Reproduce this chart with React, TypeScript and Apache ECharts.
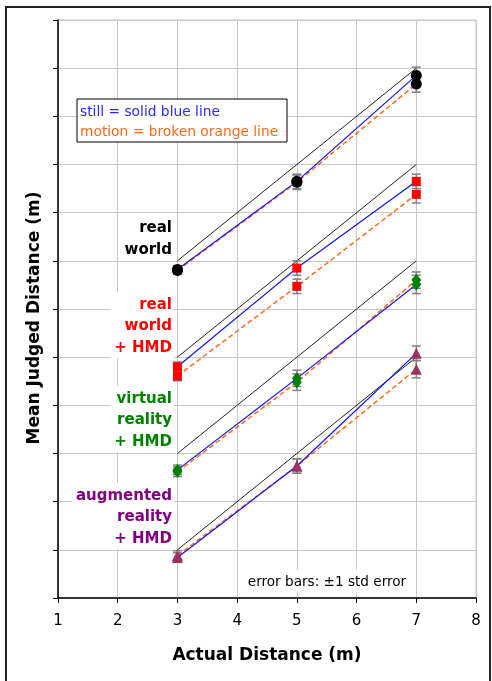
import React, { useEffect, useRef } from "react";
import * as echarts from "echarts";

const xTicks = [1, 2, 3, 4, 5, 6, 7, 8];
const xs = [3, 5, 7];

// reference lines (judged = actual), per condition: [value at x=3, value at x=7]
const refRW = [7, 11];
const refHMD = [5, 9];
const refVR = [3, 7];
const refAR = [1, 5];

const rwStill = [6.82, 8.65, 10.85];
const rwMotion = [6.8, 8.63, 10.67];
const hmdStill = [4.8, 6.85, 8.65];
const hmdMotion = [4.61, 6.47, 8.38];
const vrStill = [2.66, 4.56, 6.51];
const vrMotion = [2.62, 4.48, 6.6];
const arStill = [0.84, 2.74, 5.08];
const arMotion = [0.88, 2.74, 4.75];

const rwStillErr = [0.08, 0.15, 0.17];
const rwMotionErr = [0.08, 0.15, 0.17];
const hmdStillErr = [0.1, 0.15, 0.15];
const hmdMotionErr = [0.1, 0.15, 0.18];
const vrStillErr = [0.1, 0.17, 0.19];
const vrMotionErr = [0.1, 0.17, 0.17];
const arStillErr = [0.1, 0.15, 0.15];
const arMotionErr = [0.1, 0.15, 0.18];

const FONT = "DejaVu Sans";

export default function App() {
  const ref = useRef<HTMLDivElement>(null);
  useEffect(() => {
    if (!ref.current) return;
    const chart = echarts.init(ref.current, null, { renderer: "svg" });

    const conditions = [
      { name: "rw", refv: refRW, still: rwStill, motion: rwMotion, se: rwStillErr, me: rwMotionErr, color: "#000000", symbol: "circle", size: 11 },
      { name: "hmd", refv: refHMD, still: hmdStill, motion: hmdMotion, se: hmdStillErr, me: hmdMotionErr, color: "#ff0000", symbol: "rect", size: 9 },
      { name: "vr", refv: refVR, still: vrStill, motion: vrMotion, se: vrStillErr, me: vrMotionErr, color: "#008000", symbol: "diamond", size: [10, 12] },
      { name: "ar", refv: refAR, still: arStill, motion: arMotion, se: arStillErr, me: arMotionErr, color: "#993366", symbol: "triangle", size: 11 },
    ];

    const series: any[] = [];
    conditions.forEach((c) => {
      series.push({
        type: "line",
        data: [[xs[0], c.refv[0]], [xs[2], c.refv[1]]],
        symbol: "none",
        lineStyle: { color: "#222222", width: 1 },
        z: 2,
      });
      const errData: any[] = [];
      xs.forEach((x, i) => {
        errData.push([x, c.still[i], c.se[i]]);
        errData.push([x, c.motion[i], c.me[i]]);
      });
      series.push({
        type: "custom",
        data: errData,
        z: 3,
        renderItem: (params: any, api: any) => {
          const x = api.value(0);
          const y = api.value(1);
          const e = api.value(2);
          const lo = api.coord([x, y - e]);
          const hi = api.coord([x, y + e]);
          const st = { stroke: "#808080", lineWidth: 1.5 };
          return {
            type: "group",
            children: [
              { type: "line", shape: { x1: lo[0], y1: lo[1], x2: hi[0], y2: hi[1] }, style: st },
              { type: "line", shape: { x1: lo[0] - 4.5, y1: lo[1], x2: lo[0] + 4.5, y2: lo[1] }, style: st },
              { type: "line", shape: { x1: hi[0] - 4.5, y1: hi[1], x2: hi[0] + 4.5, y2: hi[1] }, style: st },
            ],
          };
        },
      });
      series.push({
        type: "line",
        data: xs.map((x, i) => [x, c.motion[i]]),
        symbol: c.symbol,
        symbolSize: c.size,
        itemStyle: { color: c.color },
        lineStyle: { color: "#ff6a1a", width: 1.5, type: [5, 3] },
        z: 4,
      });
      series.push({
        type: "line",
        data: xs.map((x, i) => [x, c.still[i]]),
        symbol: c.symbol,
        symbolSize: c.size,
        itemStyle: { color: c.color },
        lineStyle: { color: "#1010ff", width: 1.2 },
        z: 5,
      });
    });

    const annot = (text: string, color: string, y: number) => ({
      type: "text",
      x: 174,
      y,
      z: 10,
      style: {
        text,
        fill: color,
        font: `bold 15px "${FONT}"`,
        align: "right",
        verticalAlign: "middle",
        lineHeight: 21.5,
        backgroundColor: "#ffffff",
        padding: [1, 2, 1, 4],
      },
    });

    chart.setOption({
      animation: false,
      grid: { left: 58, right: 16, top: 20, bottom: 83, show: true, borderColor: "#c0c0c0", borderWidth: 1 },
      xAxis: {
        type: "value",
        min: xTicks[0],
        max: xTicks[xTicks.length - 1],
        interval: 1,
        axisLine: { show: true, onZero: false, lineStyle: { color: "#000", width: 1.5 } },
        axisTick: { show: true, length: 5, lineStyle: { color: "#000" } },
        axisLabel: { color: "#000", fontSize: 15, fontFamily: FONT, margin: 14 },
        splitLine: { show: true, lineStyle: { color: "#c8c8c8", width: 1 } },
      },
      yAxis: {
        type: "value",
        min: 0,
        max: 12,
        interval: 1,
        axisLine: { show: true, onZero: false, lineStyle: { color: "#000", width: 1.5 } },
        axisTick: { show: true, length: 5, lineStyle: { color: "#000" } },
        axisLabel: { show: false },
        splitLine: { show: true, lineStyle: { color: "#c8c8c8", width: 1 } },
      },
      series,
      graphic: [
        { type: "rect", shape: { x: 6, y: 7, width: 484, height: 700 }, style: { fill: "none", stroke: "#222", lineWidth: 2 }, z: 20 },
        {
          type: "text", x: 33, y: 318, rotation: Math.PI / 2, z: 10,
          style: { text: "Mean Judged Distance (m)", fill: "#000", font: `bold 17px "${FONT}"`, align: "center", verticalAlign: "middle" },
        },
        {
          type: "text", x: 267, y: 654, z: 10,
          style: { text: "Actual Distance (m)", fill: "#000", font: `bold 17px "${FONT}"`, align: "center", verticalAlign: "middle" },
        },
        { type: "rect", shape: { x: 77, y: 99, width: 210, height: 43 }, style: { fill: "#fff", stroke: "#000", lineWidth: 1 }, z: 10 },
        {
          type: "text", x: 80, y: 111, z: 11,
          style: { text: "still = solid blue line", fill: "#2a2aff", font: `13.8px "${FONT}"`, verticalAlign: "middle" },
        },
        {
          type: "text", x: 80, y: 131, z: 11,
          style: { text: "motion = broken orange line", fill: "#ff6a1a", font: `13.8px "${FONT}"`, verticalAlign: "middle" },
        },
        annot("real\nworld", "#000000", 238),
        annot("real\nworld\n+ HMD", "#ff0000", 325),
        annot("virtual\nreality\n+ HMD", "#008000", 419),
        annot("augmented\nreality\n+ HMD", "#800080", 516),
        {
          type: "text", x: 327, y: 581, z: 10,
          style: { text: "error bars: \u00b11 std error", fill: "#000", font: `13.6px "${FONT}"`, align: "center", verticalAlign: "middle", backgroundColor: "#fff", padding: [4, 6] },
        },
      ],
    });
    return () => chart.dispose();
  }, []);
  return <div ref={ref} style={{ position: "fixed", left: 0, top: 0, width: 492, height: 681 }} />;
}
